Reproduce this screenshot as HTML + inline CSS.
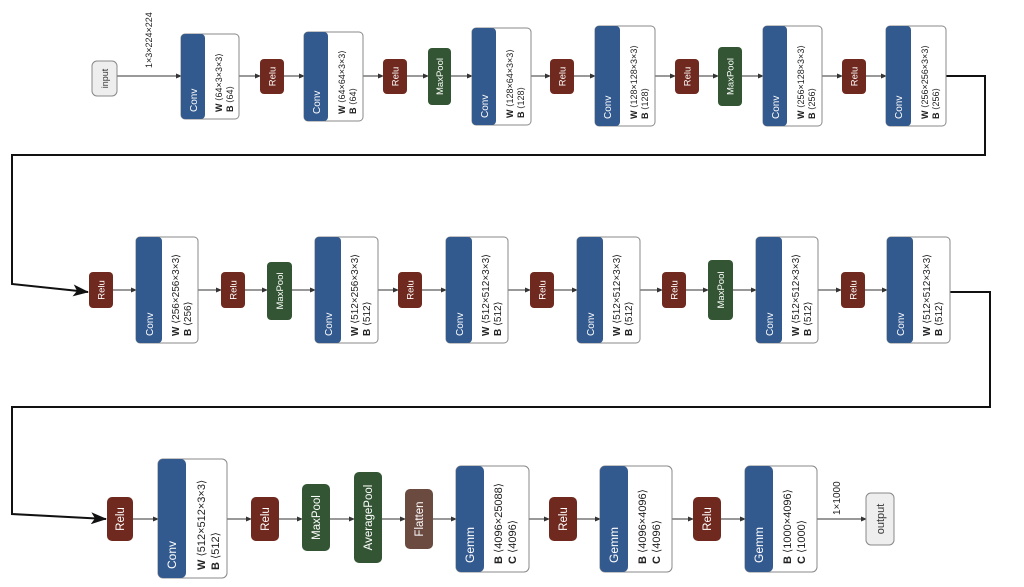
<!DOCTYPE html>
<html><head><meta charset="utf-8"><style>
html,body{margin:0;padding:0;background:#fff;width:1024px;height:587px;overflow:hidden}
svg{display:block}
text{font-family:"Liberation Sans","DejaVu Sans",sans-serif}
.w{fill:#fff}
.k{fill:#222}
.b{font-weight:bold}
</style></head><body>
<svg width="1024" height="587" viewBox="0 0 1024 587" xmlns="http://www.w3.org/2000/svg">
<defs>
<marker id="a" markerWidth="6" markerHeight="6" refX="5" refY="3" orient="auto" markerUnits="userSpaceOnUse"><path d="M0,0.5 L6,3 L0,5.5 z" fill="#333"/></marker>
<marker id="A" markerWidth="16" markerHeight="12" refX="15" refY="6" orient="auto" markerUnits="userSpaceOnUse"><path d="M0,0 L16,6 L0,12 L4,6 z" fill="#111"/></marker>
</defs>
<g stroke="#333" stroke-width="1" marker-end="url(#a)">
<line x1="117" y1="76" x2="181" y2="76"/><line x1="239" y1="76" x2="260" y2="76"/><line x1="284" y1="76" x2="304" y2="76"/><line x1="363" y1="76" x2="383" y2="76"/><line x1="407" y1="76" x2="428" y2="76"/><line x1="451" y1="76" x2="472" y2="76"/><line x1="531" y1="76" x2="550" y2="76"/><line x1="574" y1="76" x2="595" y2="76"/><line x1="655" y1="76" x2="675" y2="76"/><line x1="698" y1="76" x2="718" y2="76"/><line x1="742" y1="76" x2="763" y2="76"/><line x1="822" y1="76" x2="842" y2="76"/><line x1="866" y1="76" x2="886" y2="76"/>
<line x1="113" y1="290" x2="136" y2="290"/><line x1="198" y1="290" x2="221" y2="290"/><line x1="245" y1="290" x2="267" y2="290"/><line x1="292" y1="290" x2="315" y2="290"/><line x1="378" y1="290" x2="398" y2="290"/><line x1="422" y1="290" x2="446" y2="290"/><line x1="508" y1="290" x2="530" y2="290"/><line x1="554" y1="290" x2="577" y2="290"/><line x1="640" y1="290" x2="662" y2="290"/><line x1="686" y1="290" x2="708" y2="290"/><line x1="733" y1="290" x2="756" y2="290"/><line x1="818" y1="290" x2="841" y2="290"/><line x1="865" y1="290" x2="887" y2="290"/>
<line x1="133" y1="519" x2="158" y2="519"/><line x1="227" y1="519" x2="251" y2="519"/><line x1="279" y1="519" x2="302" y2="519"/><line x1="330" y1="519" x2="354" y2="519"/><line x1="382" y1="519" x2="405" y2="519"/><line x1="433" y1="519" x2="456" y2="519"/><line x1="529" y1="519" x2="549" y2="519"/><line x1="577" y1="519" x2="600" y2="519"/><line x1="672" y1="519" x2="693" y2="519"/><line x1="721" y1="519" x2="745" y2="519"/><line x1="817" y1="519" x2="866" y2="519"/>
</g>
<g fill="none" stroke="#111" stroke-width="2" marker-end="url(#A)">
<polyline points="946,76 985,76 985,155 12,155 12,284 88,292"/>
<polyline points="950,292 990,292 990,407 12,407 12,514 106,519"/>
</g>
<text transform="translate(152,68) rotate(-90)" font-size="9" class="k">1×3×224×224</text>
<text transform="translate(840,515) rotate(-90)" font-size="10" class="k">1×1000</text>

<rect x="92" y="61" width="25" height="35" rx="5" fill="#eee" stroke="#888"/>
<text transform="translate(108,78.5) rotate(-90)" font-size="9" text-anchor="middle" fill="#333">input</text>
<rect x="866" y="493" width="28" height="52" rx="5" fill="#eee" stroke="#888"/>
<text transform="translate(884,519) rotate(-90)" font-size="11" text-anchor="middle" fill="#333">output</text>

<g fill="#70291f">
<rect x="260" y="59" width="24" height="35" rx="4"/><rect x="383" y="59" width="24" height="35" rx="4"/><rect x="550" y="59" width="24" height="35" rx="4"/><rect x="675" y="59" width="24" height="35" rx="4"/><rect x="842" y="59" width="24" height="35" rx="4"/>
<rect x="89" y="272" width="24" height="36" rx="4"/><rect x="221" y="272" width="24" height="36" rx="4"/><rect x="398" y="272" width="24" height="36" rx="4"/><rect x="530" y="272" width="24" height="36" rx="4"/><rect x="662" y="272" width="24" height="36" rx="4"/><rect x="841" y="272" width="24" height="36" rx="4"/>
<rect x="107" y="497" width="26" height="44" rx="5"/><rect x="251" y="497" width="28" height="44" rx="5"/><rect x="549" y="497" width="28" height="44" rx="5"/><rect x="693" y="497" width="28" height="44" rx="5"/>
</g>
<g fill="#335533">
<rect x="428" y="48" width="23" height="57" rx="4"/><rect x="718" y="47" width="24" height="59" rx="4"/>
<rect x="267" y="262" width="25" height="58" rx="4"/><rect x="708" y="260" width="25" height="60" rx="4"/>
<rect x="302" y="484" width="28" height="67" rx="5"/><rect x="354" y="472" width="28" height="91" rx="5"/>
</g>
<rect x="405" y="489" width="28" height="60" rx="5" fill="#6b4a40"/>
<g class="w" font-size="9.5" text-anchor="middle">
<text transform="translate(275.5,76.5) rotate(-90)">Relu</text><text transform="translate(398.5,76.5) rotate(-90)">Relu</text><text transform="translate(565.5,76.5) rotate(-90)">Relu</text><text transform="translate(690.5,76.5) rotate(-90)">Relu</text><text transform="translate(857.5,76.5) rotate(-90)">Relu</text>
<text transform="translate(443,76.5) rotate(-90)">MaxPool</text><text transform="translate(733.5,76.5) rotate(-90)">MaxPool</text>
<text transform="translate(104.5,290) rotate(-90)">Relu</text><text transform="translate(236.5,290) rotate(-90)">Relu</text><text transform="translate(413.5,290) rotate(-90)">Relu</text><text transform="translate(545.5,290) rotate(-90)">Relu</text><text transform="translate(677.5,290) rotate(-90)">Relu</text><text transform="translate(856.5,290) rotate(-90)">Relu</text>
<text transform="translate(283,291) rotate(-90)">MaxPool</text><text transform="translate(724,290) rotate(-90)">MaxPool</text>
</g>
<g class="w" font-size="11.5" text-anchor="middle">
<text transform="translate(124,519) rotate(-90)">Relu</text><text transform="translate(269,519) rotate(-90)">Relu</text><text transform="translate(567,519) rotate(-90)">Relu</text><text transform="translate(711,519) rotate(-90)">Relu</text>
<text transform="translate(320,517.5) rotate(-90)">MaxPool</text><text transform="translate(372,517.5) rotate(-90)">AveragePool</text><text transform="translate(423,519) rotate(-90)">Flatten</text>
</g>

<g stroke="#888" stroke-width="1" fill="#fff">
<rect x="181" y="34" width="58" height="85" rx="4"/><rect x="304" y="32" width="59" height="89" rx="4"/><rect x="472" y="28" width="59" height="97" rx="4"/><rect x="595" y="26" width="60" height="100" rx="4"/><rect x="763" y="26" width="59" height="100" rx="4"/><rect x="886" y="26" width="60" height="100" rx="4"/>
<rect x="136" y="237" width="62" height="106" rx="4"/><rect x="315" y="237" width="63" height="106" rx="4"/><rect x="446" y="237" width="62" height="106" rx="4"/><rect x="577" y="237" width="63" height="106" rx="4"/><rect x="756" y="237" width="62" height="106" rx="4"/><rect x="887" y="237" width="63" height="106" rx="4"/>
<rect x="158" y="459" width="69" height="119" rx="5"/><rect x="456" y="466" width="73" height="106" rx="5"/><rect x="600" y="466" width="72" height="106" rx="5"/><rect x="745" y="466" width="72" height="106" rx="5"/>
</g>
<g fill="#335a8f">
<rect x="181" y="34" width="24" height="85" rx="4"/><rect x="304" y="32" width="24" height="89" rx="4"/><rect x="472" y="28" width="24" height="97" rx="4"/><rect x="595" y="26" width="25" height="100" rx="4"/><rect x="763" y="26" width="24" height="100" rx="4"/><rect x="886" y="26" width="25" height="100" rx="4"/>
<rect x="136" y="237" width="26" height="106" rx="4"/><rect x="315" y="237" width="26" height="106" rx="4"/><rect x="446" y="237" width="26" height="106" rx="4"/><rect x="577" y="237" width="26" height="106" rx="4"/><rect x="756" y="237" width="26" height="106" rx="4"/><rect x="887" y="237" width="26" height="106" rx="4"/>
<rect x="158" y="459" width="28" height="119" rx="5"/><rect x="456" y="466" width="28" height="106" rx="5"/><rect x="600" y="466" width="28" height="106" rx="5"/><rect x="745" y="466" width="28" height="106" rx="5"/>
</g>
<g class="w" font-size="10">
<text transform="translate(197,112) rotate(-90)">Conv</text><text transform="translate(320,114) rotate(-90)">Conv</text><text transform="translate(488,118) rotate(-90)">Conv</text><text transform="translate(611,119) rotate(-90)">Conv</text><text transform="translate(779,119) rotate(-90)">Conv</text><text transform="translate(902,119) rotate(-90)">Conv</text>
<text transform="translate(153,336) rotate(-90)">Conv</text><text transform="translate(332,336) rotate(-90)">Conv</text><text transform="translate(463,336) rotate(-90)">Conv</text><text transform="translate(594,336) rotate(-90)">Conv</text><text transform="translate(773,336) rotate(-90)">Conv</text><text transform="translate(904,336) rotate(-90)">Conv</text>
</g>
<g class="w" font-size="12">
<text transform="translate(176,569) rotate(-90)">Conv</text><text transform="translate(474,563) rotate(-90)">Gemm</text><text transform="translate(618,563) rotate(-90)">Gemm</text><text transform="translate(763,563) rotate(-90)">Gemm</text>
</g>
<g class="k" font-size="9">
<text transform="translate(222,112) rotate(-90)"><tspan class="b">W</tspan> ⟨64×3×3×3⟩</text><text transform="translate(233,112) rotate(-90)"><tspan class="b">B</tspan> ⟨64⟩</text>
<text transform="translate(345,114) rotate(-90)"><tspan class="b">W</tspan> ⟨64×64×3×3⟩</text><text transform="translate(356,114) rotate(-90)"><tspan class="b">B</tspan> ⟨64⟩</text>
<text transform="translate(513,118) rotate(-90)"><tspan class="b">W</tspan> ⟨128×64×3×3⟩</text><text transform="translate(524,118) rotate(-90)"><tspan class="b">B</tspan> ⟨128⟩</text>
<text transform="translate(637,119) rotate(-90)"><tspan class="b">W</tspan> ⟨128×128×3×3⟩</text><text transform="translate(648,119) rotate(-90)"><tspan class="b">B</tspan> ⟨128⟩</text>
<text transform="translate(804,119) rotate(-90)"><tspan class="b">W</tspan> ⟨256×128×3×3⟩</text><text transform="translate(815,119) rotate(-90)"><tspan class="b">B</tspan> ⟨256⟩</text>
<text transform="translate(928,119) rotate(-90)"><tspan class="b">W</tspan> ⟨256×256×3×3⟩</text><text transform="translate(939,119) rotate(-90)"><tspan class="b">B</tspan> ⟨256⟩</text>
</g>
<g class="k" font-size="10">
<text transform="translate(179,336) rotate(-90)"><tspan class="b">W</tspan> ⟨256×256×3×3⟩</text><text transform="translate(191,336) rotate(-90)"><tspan class="b">B</tspan> ⟨256⟩</text>
<text transform="translate(358,336) rotate(-90)"><tspan class="b">W</tspan> ⟨512×256×3×3⟩</text><text transform="translate(370,336) rotate(-90)"><tspan class="b">B</tspan> ⟨512⟩</text>
<text transform="translate(489,336) rotate(-90)"><tspan class="b">W</tspan> ⟨512×512×3×3⟩</text><text transform="translate(501,336) rotate(-90)"><tspan class="b">B</tspan> ⟨512⟩</text>
<text transform="translate(620,336) rotate(-90)"><tspan class="b">W</tspan> ⟨512×512×3×3⟩</text><text transform="translate(632,336) rotate(-90)"><tspan class="b">B</tspan> ⟨512⟩</text>
<text transform="translate(799,336) rotate(-90)"><tspan class="b">W</tspan> ⟨512×512×3×3⟩</text><text transform="translate(811,336) rotate(-90)"><tspan class="b">B</tspan> ⟨512⟩</text>
<text transform="translate(930,336) rotate(-90)"><tspan class="b">W</tspan> ⟨512×512×3×3⟩</text><text transform="translate(942,336) rotate(-90)"><tspan class="b">B</tspan> ⟨512⟩</text>
</g>
<g class="k" font-size="11">
<text transform="translate(205,570) rotate(-90)"><tspan class="b">W</tspan> ⟨512×512×3×3⟩</text><text transform="translate(219,570) rotate(-90)"><tspan class="b">B</tspan> ⟨512⟩</text>
<text transform="translate(502,564) rotate(-90)"><tspan class="b">B</tspan> ⟨4096×25088⟩</text><text transform="translate(516,564) rotate(-90)"><tspan class="b">C</tspan> ⟨4096⟩</text>
<text transform="translate(646,564) rotate(-90)"><tspan class="b">B</tspan> ⟨4096×4096⟩</text><text transform="translate(660,564) rotate(-90)"><tspan class="b">C</tspan> ⟨4096⟩</text>
<text transform="translate(791,564) rotate(-90)"><tspan class="b">B</tspan> ⟨1000×4096⟩</text><text transform="translate(805,564) rotate(-90)"><tspan class="b">C</tspan> ⟨1000⟩</text>
</g>
</svg>
</body></html>
